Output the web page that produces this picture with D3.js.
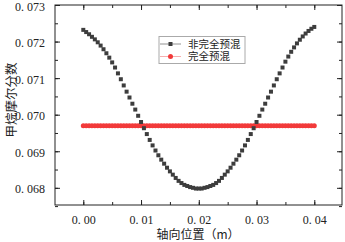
<!DOCTYPE html>
<html>
<head>
    <meta charset="utf-8">
    <script src="https://d3js.org/d3.v7.min.js"></script>
    <style>
        body { margin: 0; background: #fff; }
        svg { display: block; }
    </style>
</head>
<body>
    <script>
        // 轴向位置 (m)
        var positions = [
            0.0000, 0.0005, 0.0010, 0.0015, 0.0020, 0.0025, 0.0030, 0.0035, 0.0040, 0.0045,
            0.0050, 0.0055, 0.0060, 0.0065, 0.0070, 0.0075, 0.0080, 0.0085, 0.0090, 0.0095,
            0.0100, 0.0105, 0.0110, 0.0115, 0.0120, 0.0125, 0.0130, 0.0135, 0.0140, 0.0145,
            0.0150, 0.0155, 0.0160, 0.0165, 0.0170, 0.0175, 0.0180, 0.0185, 0.0190, 0.0195,
            0.0200, 0.0205, 0.0210, 0.0215, 0.0220, 0.0225, 0.0230, 0.0235, 0.0240, 0.0245,
            0.0250, 0.0255, 0.0260, 0.0265, 0.0270, 0.0275, 0.0280, 0.0285, 0.0290, 0.0295,
            0.0300, 0.0305, 0.0310, 0.0315, 0.0320, 0.0325, 0.0330, 0.0335, 0.0340, 0.0345,
            0.0350, 0.0355, 0.0360, 0.0365, 0.0370, 0.0375, 0.0380, 0.0385, 0.0390, 0.0395,
            0.0400
        ];

        // 非完全预混
        var partialPremix = [
            0.07232, 0.07226, 0.07220, 0.07213, 0.07206, 0.07198, 0.07189, 0.07179, 0.07168, 0.07156,
            0.07143, 0.07129, 0.07113, 0.07097, 0.07080, 0.07063, 0.07047, 0.07030, 0.07014, 0.06997,
            0.06980, 0.06963, 0.06947, 0.06931, 0.06916, 0.06902, 0.06889, 0.06877, 0.06866, 0.06855,
            0.06845, 0.06836, 0.06827, 0.06819, 0.06813, 0.06808, 0.06805, 0.06802, 0.06800, 0.06798,
            0.06798, 0.06798, 0.06800, 0.06802, 0.06805, 0.06808, 0.06813, 0.06819, 0.06827, 0.06836,
            0.06845, 0.06855, 0.06866, 0.06877, 0.06889, 0.06902, 0.06916, 0.06931, 0.06947, 0.06963,
            0.06980, 0.06997, 0.07014, 0.07030, 0.07047, 0.07063, 0.07080, 0.07097, 0.07113, 0.07129,
            0.07145, 0.07159, 0.07172, 0.07184, 0.07195, 0.07205, 0.07214, 0.07222, 0.07229, 0.07235,
            0.07240
        ];

        // 完全预混
        var fullPremix = [
            0.0697, 0.0697, 0.0697, 0.0697, 0.0697, 0.0697, 0.0697, 0.0697, 0.0697, 0.0697,
            0.0697, 0.0697, 0.0697, 0.0697, 0.0697, 0.0697, 0.0697, 0.0697, 0.0697, 0.0697,
            0.0697, 0.0697, 0.0697, 0.0697, 0.0697, 0.0697, 0.0697, 0.0697, 0.0697, 0.0697,
            0.0697, 0.0697, 0.0697, 0.0697, 0.0697, 0.0697, 0.0697, 0.0697, 0.0697, 0.0697,
            0.0697, 0.0697, 0.0697, 0.0697, 0.0697, 0.0697, 0.0697, 0.0697, 0.0697, 0.0697,
            0.0697, 0.0697, 0.0697, 0.0697, 0.0697, 0.0697, 0.0697, 0.0697, 0.0697, 0.0697,
            0.0697, 0.0697, 0.0697, 0.0697, 0.0697, 0.0697, 0.0697, 0.0697, 0.0697, 0.0697,
            0.0697, 0.0697, 0.0697, 0.0697, 0.0697, 0.0697, 0.0697, 0.0697, 0.0697, 0.0697,
            0.0697
        ];

        var xTicks = [0.00, 0.01, 0.02, 0.03, 0.04];
        var yTicks = [0.068, 0.069, 0.070, 0.071, 0.072, 0.073];
        var seriesNames = ["非完全预混", "完全预混"];

        var width = 345, height = 242;
        var margin = {top: 5, right: 3, bottom: 37, left: 55};
        var numFont = "'Liberation Serif', serif";
        var cjkFont = "'Noto Sans CJK SC', sans-serif";

        var svg = d3.select("body")
                    .append("svg")
                    .attr("width", width)
                    .attr("height", height);

        svg.append("rect").attr("width", width).attr("height", height).attr("fill", "#fff");

        var x = d3.scaleLinear().domain([-0.0049, 0.0448]).range([margin.left, width - margin.right]);
        var y = d3.scaleLinear().domain([0.06753, 0.073]).range([height - margin.bottom, margin.top]);

        // 刻度标签格式: "0. 073"
        function fmt(n) {
            return function(v) { return v.toFixed(n).replace(".", ". "); };
        }

        var minorX = d3.range(-0.005, 0.0449, 0.005).filter(v => v > x.domain()[0] && v < x.domain()[1]);
        var minorY = d3.range(0.0675, 0.07301, 0.0005);

        // 坐标轴（刻度朝内）
        function drawAxis(axis, tr) {
            var g = svg.append("g").attr("transform", tr).call(axis);
            g.select(".domain").remove();
            g.selectAll("line").attr("stroke", "#222");
            g.selectAll("text").attr("font-family", numFont).attr("font-size", 12).attr("fill", "#222");
            return g;
        }

        var b = height - margin.bottom, t = margin.top, l = margin.left, r = width - margin.right;

        drawAxis(d3.axisBottom(x).tickValues(minorX).tickSize(-3).tickFormat(""), `translate(0,${b})`);
        drawAxis(d3.axisBottom(x).tickValues(xTicks).tickSize(-5).tickPadding(10).tickFormat(fmt(2)), `translate(0,${b})`);
        drawAxis(d3.axisTop(x).tickValues(minorX).tickSize(-3).tickFormat(""), `translate(0,${t})`);
        drawAxis(d3.axisTop(x).tickValues(xTicks).tickSize(-5).tickFormat(""), `translate(0,${t})`);
        drawAxis(d3.axisLeft(y).tickValues(minorY).tickSize(-3).tickFormat(""), `translate(${l},0)`);
        var yAxisG = drawAxis(d3.axisLeft(y).tickValues(yTicks).tickSize(-5).tickPadding(10).tickFormat(fmt(3)), `translate(${l},0)`);
        yAxisG.selectAll("text").attr("dy", "0.42em");
        drawAxis(d3.axisRight(y).tickValues(minorY).tickSize(-3).tickFormat(""), `translate(${r},0)`);
        drawAxis(d3.axisRight(y).tickValues(yTicks).tickSize(-5).tickFormat(""), `translate(${r},0)`);

        svg.append("rect")
           .attr("x", l).attr("y", t)
           .attr("width", r - l).attr("height", b - t)
           .attr("fill", "none").attr("stroke", "#222").attr("stroke-width", 1);

        // 完全预混: 红色圆点
        svg.append("g")
           .selectAll("circle")
           .data(positions)
           .join("circle")
           .attr("cx", d => x(d))
           .attr("cy", (d, i) => y(fullPremix[i]))
           .attr("r", 2.5)
           .attr("fill", "#f23a3a");

        // 非完全预混: 黑色方块
        var sq = 4;
        svg.append("g")
           .selectAll("rect")
           .data(positions)
           .join("rect")
           .attr("x", d => x(d) - sq / 2)
           .attr("y", (d, i) => y(partialPremix[i]) - sq / 2)
           .attr("width", sq).attr("height", sq)
           .attr("fill", "#3d3d3d");

        // 图例
        var lg = svg.append("g").attr("transform", "translate(159,36.5)");
        lg.append("rect").attr("width", 86).attr("height", 27)
          .attr("fill", "#fff").attr("stroke", "#aaa").attr("stroke-width", 1);
        var items = [
            {name: seriesNames[0], color: "#3d3d3d", line: "#777", shape: "square"},
            {name: seriesNames[1], color: "#f23a3a", line: "#f59a9a", shape: "circle"}
        ];
        items.forEach(function(it, i) {
            var cy = 7.5 + i * 12.5;
            lg.append("line").attr("x1", 1).attr("x2", 22).attr("y1", cy).attr("y2", cy)
              .attr("stroke", it.line).attr("stroke-width", 0.8);
            if (it.shape === "square") {
                lg.append("rect").attr("x", 9.5).attr("y", cy - 2).attr("width", 4).attr("height", 4).attr("fill", it.color);
            } else {
                lg.append("circle").attr("cx", 11.5).attr("cy", cy).attr("r", 2.5).attr("fill", it.color);
            }
            lg.append("text").attr("x", 29).attr("y", cy).attr("dy", "0.36em")
              .attr("font-family", cjkFont).attr("font-size", 10.5).attr("fill", "#222")
              .text(it.name);
        });

        // 轴标题
        svg.append("text")
           .attr("transform", "translate(11,100) rotate(-90)")
           .attr("text-anchor", "middle").attr("dy", "0.36em")
           .attr("font-family", cjkFont).attr("font-size", 12.5).attr("fill", "#222")
           .text("甲烷摩尔分数");

        svg.append("text")
           .attr("x", 198).attr("y", 235).attr("dy", "0.36em")
           .attr("text-anchor", "middle")
           .attr("font-family", cjkFont).attr("font-size", 12).attr("fill", "#222")
           .text("轴向位置（m）");
    </script>
</body>
</html>
